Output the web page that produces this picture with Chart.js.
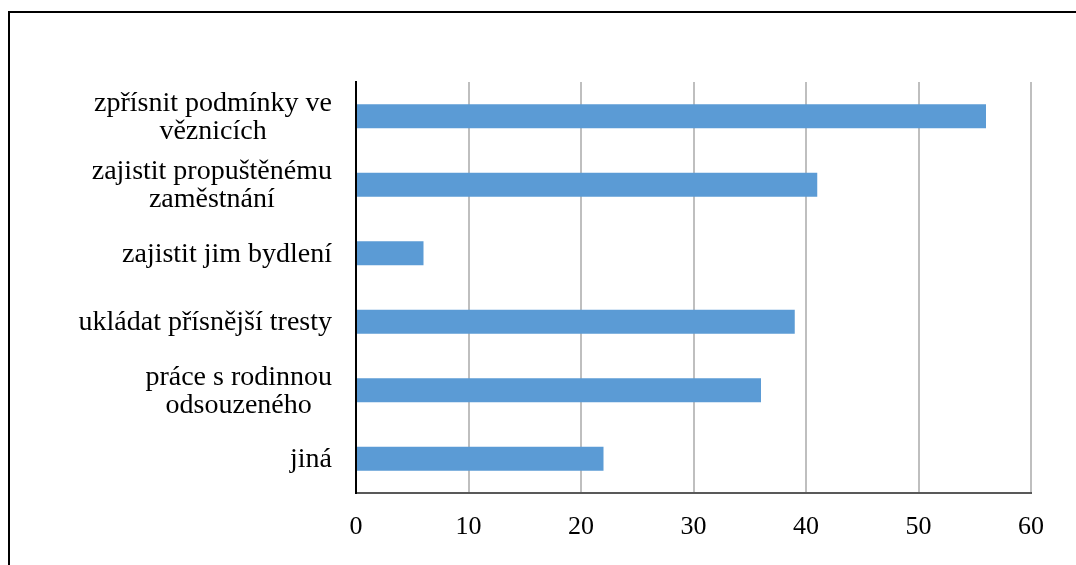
<!DOCTYPE html>
<html lang="cs">
<head>
<meta charset="UTF-8">
<title>Opatření</title>
<script src="https://cdn.jsdelivr.net/npm/chart.js"></script>
<style>
    body { margin: 0; background: #fff; overflow: hidden; }
    #frame { position: absolute; left: 8px; top: 11px; width: 1100px; height: 600px;
             border-left: 2px solid #000; border-top: 2px solid #000; }
    #chart { position: absolute; left: 0; top: 0; }
</style>
</head>
<body>
<div id="frame"></div>
<canvas id="chart" width="1076" height="565"></canvas>
<script>
    // category labels (split into lines as in the picture)
    const categories = [
        ["zpřísnit podmínky ve", "věznicích"],
        ["zajistit propuštěnému", "zaměstnání"],
        ["zajistit jim bydlení"],
        ["ukládat přísnější tresty"],
        ["práce s rodinnou", "odsouzeného"],
        ["jiná"]
    ];
    const values = [56, 41, 6, 39, 36, 22];
    const xTicks = [0, 10, 20, 30, 40, 50, 60];

    const labelFont = '28px "Liberation Serif", "Times New Roman", serif';

    // draws the y labels with lines centred inside each block, right edge at the padding
    const centredLabels = {
        id: "centredLabels",
        afterDraw(chart) {
            const ctx = chart.ctx;
            const y = chart.scales.y;
            const right = y.right - 24;
            const lh = 28;
            ctx.save();
            ctx.font = labelFont;
            ctx.fillStyle = "#000";
            ctx.textAlign = "center";
            ctx.textBaseline = "middle";
            categories.forEach((lines, i) => {
                const w = Math.max(...lines.map(l => ctx.measureText(l).width));
                const cx = right - w / 2;
                const cy = y.getPixelForValue(i) + 1;
                const top = cy - (lines.length - 1) * lh / 2;
                lines.forEach((l, k) => ctx.fillText(l, cx, top + k * lh));
            });
            ctx.restore();
        }
    };

    new Chart(document.getElementById("chart"), {
        type: "bar",
        data: {
            labels: categories.map(l => l.join(" ")),
            datasets: [{
                data: values,
                backgroundColor: "#5B9BD5",
                barPercentage: 0.35,
                categoryPercentage: 1
            }]
        },
        options: {
            indexAxis: "y",
            responsive: false,
            animation: false,
            layout: { padding: { top: 82, right: 45, left: 0, bottom: 0 } },
            plugins: { legend: { display: false }, tooltip: { enabled: false } },
            scales: {
                x: {
                    min: 0,
                    max: 60,
                    afterBuildTicks: s => { s.ticks = xTicks.map(v => ({ value: v })); },
                    afterFit: s => { s.height = 72; },
                    grid: { color: "#bfbfbf", lineWidth: 2, drawTicks: false },
                    border: { color: "#595959", width: 2 },
                    ticks: {
                        padding: 19,
                        color: "#000",
                        font: { family: '"Liberation Serif", "Times New Roman", serif', size: 26 }
                    }
                },
                y: {
                    afterFit: s => { s.width = 356; },
                    grid: { display: false },
                    border: { color: "#000", width: 2 },
                    ticks: { color: "rgba(0,0,0,0)", font: { size: 25 } }
                }
            }
        },
        plugins: [centredLabels]
    });
</script>
</body>
</html>
